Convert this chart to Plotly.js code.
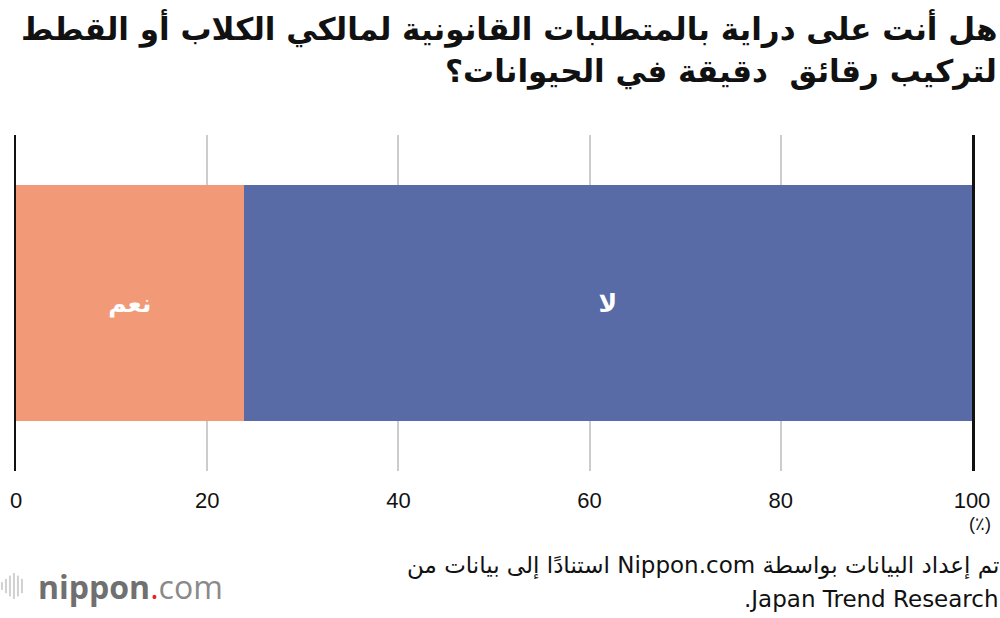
<!DOCTYPE html>
<html>
<head>
<meta charset="utf-8">
<script src="https://cdn.plot.ly/plotly-3.0.1.min.js"></script>
<style>html,body{margin:0;padding:0;background:#fff;}#chart{width:1000px;height:618px;}</style>
</head>
<body>
<div id="chart"></div>
<script>
var categories = ["q"];
var seriesNames = ["نعم", "لا"];
var yesValues = [23.8];
var noValues = [76.2];
var tickValues = [0, 20, 40, 60, 80, 100];
var tickLabels = ["0", "20", "40", "60", "80", "100"];

var RLE = "\u202B", PDF = "\u202C";
var titleLines = ["هل أنت على دراية بالمتطلبات القانونية لمالكي الكلاب أو القطط", "لتركيب رقائق  دقيقة في الحيوانات؟"];
var sourceLines = ["تم إعداد البيانات بواسطة Nippon.com استنادًا إلى بيانات من", "Japan Trend Research."];

var traces = [
  {type: "bar", orientation: "h", y: categories, x: yesValues, name: seriesNames[0],
   marker: {color: "#F29A78"}, text: ["<b>" + seriesNames[0] + "</b>"], textposition: "inside", insidetextanchor: "middle",
   textfont: {color: "#fff", size: 25, family: "DejaVu Sans"}, hoverinfo: "none", textangle: 0},
  {type: "bar", orientation: "h", y: categories, x: noValues, name: seriesNames[1],
   marker: {color: "#586BA6"}, text: ["<b>" + seriesNames[1] + "</b>"], textposition: "inside", insidetextanchor: "middle",
   textfont: {color: "#fff", size: 25, family: "DejaVu Sans"}, hoverinfo: "none", textangle: 0}
];

var iconBars = [];
var iconHeights = [0.3, 0.55, 0.8, 1.0, 0.8, 0.55];
for (var i = 0; i < iconHeights.length; i++) {
  var cx = 2 + i * 4;
  var h = 26 * iconHeights[i];
  iconBars.push({type: "line", xref: "paper", yref: "paper", xsizemode: "pixel", ysizemode: "pixel",
    xanchor: -0.0168, yanchor: -0.3423, x0: cx, x1: cx, y0: -h / 2, y1: h / 2,
    line: {color: "#d0d0d0", width: 2}});
}

var layout = {
  width: 1000, height: 618,
  margin: {l: 16, r: 28, t: 135, b: 147, pad: 0},
  paper_bgcolor: "#fff", plot_bgcolor: "#fff",
  barmode: "stack", bargap: 0.298, showlegend: false,
  xaxis: {range: [0, 100], tickvals: tickValues, ticktext: tickLabels, showgrid: true,
    gridcolor: "#cccccc", gridwidth: 2, zeroline: false, showline: false, ticks: "",
    ticklabelstandoff: 14,
    tickfont: {family: "Liberation Sans, Arial, sans-serif", size: 22, color: "#111"}, fixedrange: true},
  yaxis: {showticklabels: false, showgrid: false, zeroline: false, showline: true, mirror: true,
    linecolor: "#111", linewidth: 2.5, ticks: "", fixedrange: true},
  annotations: [
    {xref: "paper", yref: "paper", x: 1.028, y: 1.318, xanchor: "right", yanchor: "middle", align: "right",
     text: "<b>" + RLE + titleLines[0] + PDF + "</b>", showarrow: false,
     font: {family: "DejaVu Sans", size: 31, color: "#111"}},
    {xref: "paper", yref: "paper", x: 1.028, y: 1.19, xanchor: "right", yanchor: "middle", align: "right",
     text: "<b>" + RLE + titleLines[1] + PDF + "</b>", showarrow: false,
     font: {family: "DejaVu Sans", size: 31, color: "#111"}},
    {xref: "paper", yref: "paper", x: 1.022, y: -0.122, xanchor: "right", yanchor: "top",
     text: "(٪)", showarrow: false, font: {family: "Liberation Sans, Arial, sans-serif", size: 18, color: "#111"}},
    {xref: "paper", yref: "paper", x: 1.03, y: -0.28, xanchor: "right", yanchor: "middle", align: "right",
     text: RLE + sourceLines[0] + PDF, showarrow: false,
     font: {family: "DejaVu Sans", size: 23, color: "#111"}},
    {xref: "paper", yref: "paper", x: 1.03, y: -0.381, xanchor: "right", yanchor: "middle", align: "right",
     text: RLE + sourceLines[1] + PDF, showarrow: false,
     font: {family: "DejaVu Sans", size: 23, color: "#111"}},
    {xref: "paper", yref: "paper", x: 0.021, y: -0.3423, xanchor: "left", yanchor: "middle",
     text: "<b><span style='color:#707070'>nippon</span></b><span style='color:#ee1c25'>.</span><span style='color:#8a8a8a'>com</span>",
     showarrow: false, font: {family: "Open Sans", size: 32, color: "#707070"}}
  ],
  shapes: iconBars
};

Plotly.newPlot("chart", traces, layout, {displayModeBar: false, staticPlot: true});
</script>
</body>
</html>
